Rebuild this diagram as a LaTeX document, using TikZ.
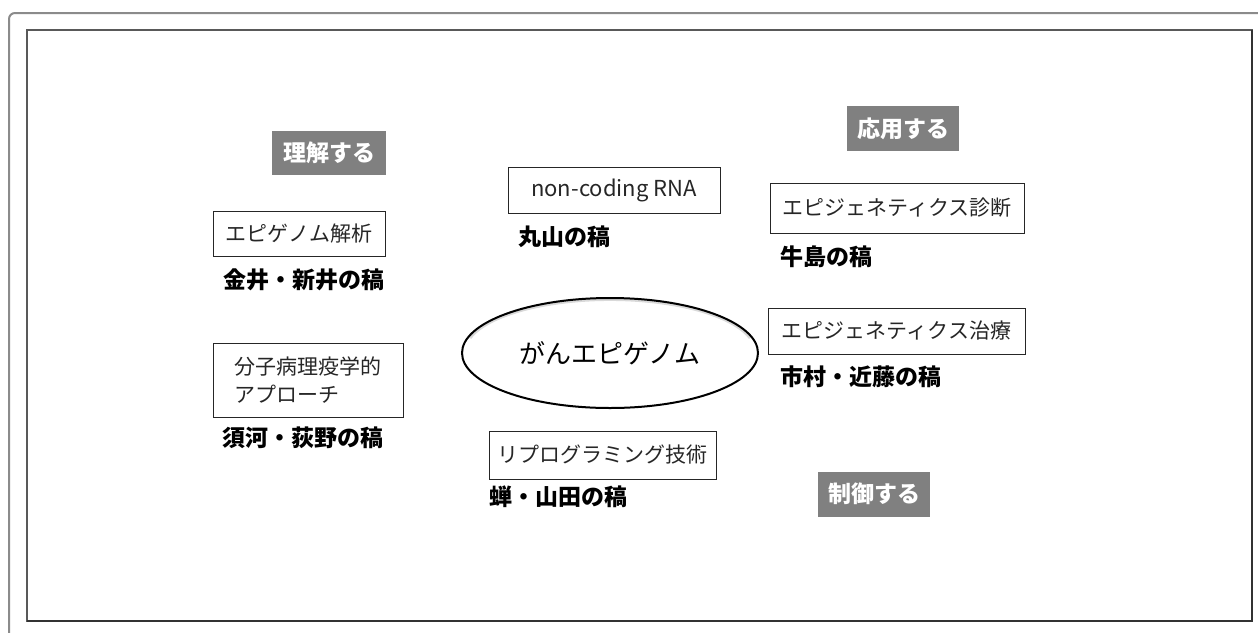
\documentclass[tikz,border=0pt]{standalone}
\usepackage{fontspec}
\setmainfont{Noto Sans CJK JP}
\usetikzlibrary{shapes.geometric}
\definecolor{tagfill}{gray}{0.5}
\definecolor{framegray}{gray}{0.35}
\tikzset{
  topicbox/.style={draw=black!85, line width=1pt, rectangle, inner sep=0pt, font=\fontsize{21}{28}\selectfont, text=black!85},
  authorlabel/.style={anchor=west, inner sep=0pt, font=\fontsize{23}{26}\selectfont\bfseries},
  tag/.style={fill=tagfill, inner sep=0pt, text=white, font=\fontsize{23}{26}\selectfont\bfseries},
}
\begin{document}
\begin{tikzpicture}[x=1pt,y=-1pt]
\useasboundingbox (0,0) rectangle (1258,632);
% frames
\draw[framegray!70, line width=2pt, rounded corners=6pt] (9,640) -- (9,13) -- (1275,13);
\draw[framegray, line width=2pt] (27,621) -- (27,30) -- (1252,30) -- (1252,621) -- cycle;
\draw[black!80, line width=2pt] (27,621) -- (1252,621) -- (1252,30);

% category tags
\node[tag, minimum width=114pt, minimum height=44pt] (g1) at (329,152.5) {理解する};
\node[tag, minimum width=112pt, minimum height=45pt] (g2) at (903,128.5) {応用する};
\node[tag, minimum width=112pt, minimum height=45pt] (g3) at (874,494) {制御する};

% topic boxes
\node[topicbox, minimum width=172pt, minimum height=45pt] (b1) at (299,233.5) {エピゲノム解析};
\node[topicbox, minimum width=190pt, minimum height=74pt, align=left] (b2) at (308,380) {分子病理疫学的\\アプローチ};
\node[topicbox, minimum width=212pt, minimum height=46pt, font=\fontsize{22}{28}\selectfont] (b3) at (614,190) {non-coding RNA};
\node[topicbox, minimum width=227pt, minimum height=48pt] (b4) at (602.5,455) {リプログラミング技術};
\node[topicbox, minimum width=254pt, minimum height=50pt] (b5) at (897,208) {エピジェネティクス診断};
\node[topicbox, minimum width=257pt, minimum height=46pt] (b6) at (896.5,331) {エピジェネティクス治療};

% author labels
\node[authorlabel] (l1) at (223,280) {金井・新井の稿};
\node[authorlabel] (l2) at (222,438) {須河・荻野の稿};
\node[authorlabel] (l3) at (518,237) {丸山の稿};
\node[authorlabel] (l4) at (489,497) {蝉・山田の稿};
\node[authorlabel] (l5) at (780,257) {牛島の稿};
\node[authorlabel] (l6) at (780,377) {市村・近藤の稿};

% central ellipse
\draw[black!15, line width=3pt] (470,338) arc[start angle=165, end angle=15, x radius=145pt, y radius=52pt];
\node[ellipse, draw=black, line width=2pt, minimum width=296pt, minimum height=110pt, inner sep=0pt, font=\fontsize{26}{30}\selectfont] (core) at (610,353) {がんエピゲノム};
\end{tikzpicture}
\end{document}
